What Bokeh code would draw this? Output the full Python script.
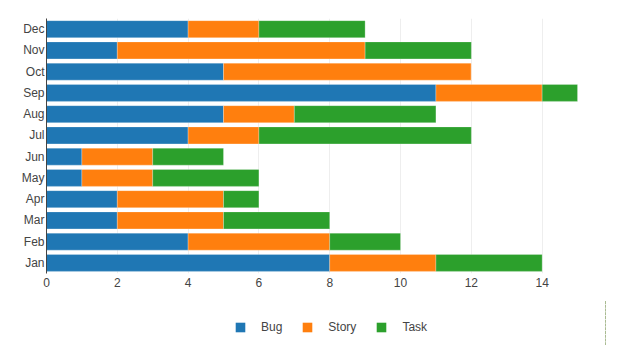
from bokeh.plotting import figure
from bokeh.layouts import column
from bokeh.models import ColumnDataSource, FactorRange, Range1d, Legend, LegendItem, FixedTicker
from bokeh.embed import file_html
from bokeh.resources import INLINE

months = ["Jan", "Feb", "Mar", "Apr", "May", "Jun", "Jul", "Aug", "Sep", "Oct", "Nov", "Dec"]
bug = [8, 4, 2, 2, 1, 1, 4, 5, 11, 5, 2, 4]
story = [3, 4, 3, 3, 2, 2, 2, 2, 3, 7, 7, 2]
task = [3, 2, 3, 1, 3, 2, 6, 4, 1, 0, 3, 3]
series = ["Bug", "Story", "Task"]
colors = ["#1f77b4", "#ff7f0e", "#2ca02c"]
x_ticks = [0, 2, 4, 6, 8, 10, 12, 14]

src = ColumnDataSource(dict(month=months, Bug=bug, Story=story, Task=task))

p = figure(frame_width=559, frame_height=255, output_backend="svg", toolbar_location=None,
           y_range=FactorRange(*months, range_padding=0), x_range=Range1d(0, 15.79),
           min_border_left=46, min_border_right=30, min_border_top=18, min_border_bottom=27)
p.outline_line_color = None

renderers = p.hbar_stack(series, y="month", height=0.8, color=colors, source=src,
                         line_color="white", line_alpha=0.5, line_width=0.5)

font = "Liberation Sans"
p.xaxis.ticker = FixedTicker(ticks=x_ticks)
p.xaxis.axis_line_color = None
p.xaxis.major_tick_line_color = None
p.xaxis.minor_tick_line_color = None
p.xaxis.major_tick_out = 0
p.xaxis.major_tick_in = 0
p.xaxis.major_label_text_font = font
p.xaxis.major_label_text_font_size = "12px"
p.xaxis.major_label_text_color = "#444444"
p.xaxis.major_label_standoff = 4

p.yaxis.axis_line_color = "#444444"
p.yaxis.axis_line_width = 1
p.yaxis.major_tick_line_color = None
p.yaxis.minor_tick_line_color = None
p.yaxis.major_tick_out = 0
p.yaxis.major_tick_in = 0
p.yaxis.major_label_text_font = font
p.yaxis.major_label_text_font_size = "12px"
p.yaxis.major_label_text_color = "#444444"
p.yaxis.major_label_standoff = 2

p.ygrid.grid_line_color = None
p.xgrid.grid_line_color = "#eeeeee"
p.xgrid.grid_line_width = 1

# legend strip below the chart (its bars sit outside its visible range; only the legend shows)
lg = figure(width=635, height=45, output_backend="svg", toolbar_location=None,
            min_border=0, x_range=Range1d(-2, -1), y_range=FactorRange(*months))
lg.axis.visible = False
lg.grid.grid_line_color = None
lg.outline_line_color = None
legend_renderers = lg.hbar_stack(series, y="month", height=0.8, color=colors, source=src,
                                 line_color=None)

legend = Legend(items=[LegendItem(label=s, renderers=[r]) for s, r in zip(series, legend_renderers)],
                orientation="horizontal", location=(188, 11),
                label_text_font=font, label_text_font_size="12px", label_text_color="#444444",
                glyph_width=12, glyph_height=12, spacing=19, label_standoff=15,
                label_height=12,
                border_line_color=None, background_fill_alpha=0, margin=0, padding=0)
lg.add_layout(legend, "center")

layout = column(p, lg, spacing=0)
open("out.html", "w").write(file_html(layout, INLINE))
